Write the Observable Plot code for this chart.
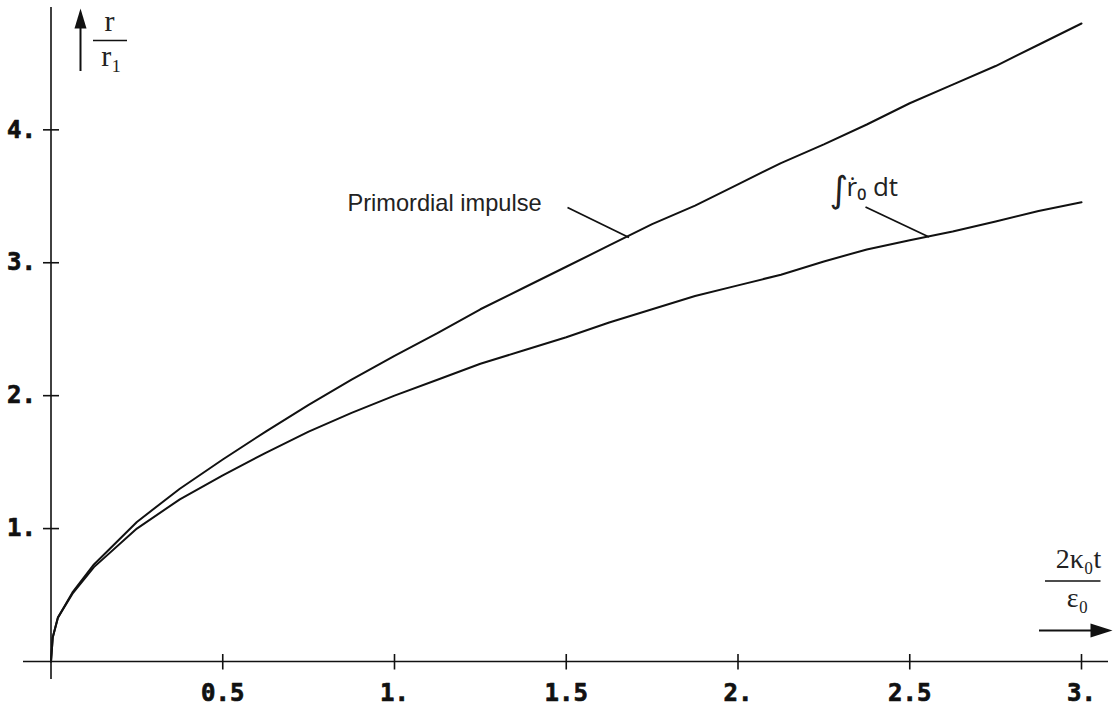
<!DOCTYPE html>
<html>
<head>
<meta charset="utf-8">
<script src="https://cdn.jsdelivr.net/npm/d3@7"></script>
<script src="https://cdn.jsdelivr.net/npm/@observablehq/plot@0.6"></script>
<style>
  html, body { margin: 0; padding: 0; background: #fff; }
  #chart svg { display: block; }
</style>
</head>
<body>
<div id="chart"></div>
<script>
// ---- data ----
const xs = [0, 0.005, 0.02, 0.0625, 0.125, 0.25, 0.375, 0.5, 0.625, 0.75, 0.875, 1.0,
  1.125, 1.25, 1.375, 1.5, 1.625, 1.75, 1.875, 2.0, 2.125, 2.25, 2.375, 2.5, 2.625,
  2.75, 2.875, 3.0];
const primordial = [0, 0.18, 0.33, 0.52, 0.73, 1.05, 1.30, 1.52, 1.73, 1.93, 2.12, 2.30,
  2.47, 2.65, 2.81, 2.97, 3.13, 3.29, 3.43, 3.59, 3.75, 3.89, 4.04, 4.20, 4.34,
  4.48, 4.64, 4.80];
const integral = [0, 0.18, 0.33, 0.51, 0.71, 1.00, 1.22, 1.40, 1.57, 1.73, 1.87, 2.00,
  2.12, 2.24, 2.34, 2.44, 2.55, 2.65, 2.75, 2.83, 2.91, 3.01, 3.10, 3.17, 3.235,
  3.31, 3.39, 3.455];
const seriesNames = ["Primordial impulse", "∫ṙ₀ dt"];
const xTickValues = [0.5, 1, 1.5, 2, 2.5, 3];
const xTickLabels = ["0.5", "1.", "1.5", "2.", "2.5", "3."];
const yTickValues = [1, 2, 3, 4];
const yTickLabels = ["1.", "2.", "3.", "4."];

// ---- layout ----
const W = 1114, H = 709, ML = 50.5, MR = 33, MT = 23, MB = 48;
const XMAX = 3, YMAX = 4.8;
// pixel -> data helpers for annotations
const X = p => (p - ML) / (W - ML - MR) * XMAX;
const Y = p => (H - MB - p) / (H - MT - MB) * YMAX;

const rows = [];
xs.forEach((x, i) => {
  rows.push({series: seriesNames[0], x, y: primordial[i]});
  rows.push({series: seriesNames[1], x, y: integral[i]});
});

const upHead = {draw(ctx) { ctx.moveTo(0, -10); ctx.lineTo(6, 10); ctx.lineTo(-6, 10); ctx.closePath(); }};
const rightHead = {draw(ctx) { ctx.moveTo(11, 0); ctx.lineTo(-11, -7); ctx.lineTo(-11, 7); ctx.closePath(); }};

const tickFont = {fontFamily: "DejaVu Sans Mono", fontWeight: "bold", fontSize: 24, fill: "#111", stroke: "#111", strokeWidth: 0.7};
const serif = {fontFamily: "Liberation Serif, Times New Roman, serif", fill: "#222"};
const ink = "#111";

const chart = Plot.plot({
  width: W, height: H,
  marginLeft: ML, marginRight: MR, marginTop: MT, marginBottom: MB,
  x: {domain: [0, XMAX], axis: null},
  y: {domain: [0, YMAX], axis: null},
  marks: [
    // axes
    Plot.ruleY([0], {x1: X(23), x2: X(1108), stroke: ink, strokeWidth: 1.6}),
    Plot.ruleX([0], {y1: Y(679), y2: Y(7), stroke: ink, strokeWidth: 1.6}),
    Plot.ruleX(xTickValues, {x: d => d, y1: Y(669.5), y2: Y(654), stroke: ink, strokeWidth: 1.6}),
    Plot.ruleY(yTickValues, {y: d => d, x1: X(43), x2: X(59), stroke: ink, strokeWidth: 1.6}),
    Plot.text(xTickValues, {x: d => d, y: 0, text: (d, i) => xTickLabels[i], dy: 32, ...tickFont}),
    Plot.text(yTickValues, {x: 0, y: d => d, text: (d, i) => yTickLabels[i], dx: -15, textAnchor: "end", ...tickFont}),
    // curves
    Plot.line(rows, {x: "x", y: "y", z: "series", stroke: ink, strokeWidth: 2}),
    // annotations
    Plot.link([0], {x1: X(567), y1: Y(207), x2: X(628.5), y2: Y(237), stroke: ink, strokeWidth: 1.8}),
    Plot.text([seriesNames[0]], {x: X(347), y: Y(210.5), text: d => d, textAnchor: "start", lineAnchor: "bottom",
      fontFamily: "Liberation Sans, Arial, sans-serif", fontSize: 23.6, fill: "#222"}),
    Plot.link([0], {x1: X(865), y1: Y(206.5), x2: X(928.5), y2: Y(236.5), stroke: ink, strokeWidth: 1.8}),
    Plot.text([seriesNames[1]], {x: X(829), y: Y(201), text: d => d.slice(0, 1), textAnchor: "start", lineAnchor: "bottom",
      fontFamily: "DejaVu Sans, sans-serif", fontSize: 36, fill: "#222"}),
    Plot.text([seriesNames[1]], {x: X(846), y: Y(195), text: d => d.slice(1), textAnchor: "start", lineAnchor: "bottom",
      fontFamily: "Open Sans, DejaVu Sans, sans-serif", fontSize: 26, fill: "#222"}),
    // y axis label
    Plot.ruleX([0], {x: X(80), y1: Y(71), y2: Y(26), stroke: ink, strokeWidth: 2}),
    Plot.dot([0], {x: X(80), y: Y(18), symbol: upHead, fill: ink, stroke: "none"}),
    Plot.text(["r"], {x: X(109), y: Y(30), text: d => d, lineAnchor: "bottom", fontSize: 30, ...serif}),
    Plot.ruleY([0], {y: Y(40), x1: X(93), x2: X(127), stroke: ink, strokeWidth: 1.6}),
    Plot.text(["r₁"], {x: X(111), y: Y(65), text: d => d, lineAnchor: "bottom", fontSize: 30, ...serif}),
    // x axis label
    Plot.text(["2κ₀t"], {x: X(1078), y: Y(567), text: d => d, lineAnchor: "bottom", fontSize: 28, ...serif}),
    Plot.ruleY([0], {y: Y(580.5), x1: X(1045), x2: X(1100.5), stroke: ink, strokeWidth: 1.6}),
    Plot.text(["ε₀"], {x: X(1077), y: Y(606), text: d => d, lineAnchor: "bottom", fontSize: 28, ...serif}),
    Plot.ruleY([0], {y: Y(630), x1: X(1039), x2: X(1093), stroke: ink, strokeWidth: 2}),
    Plot.dot([0], {x: X(1101), y: Y(630), symbol: rightHead, fill: ink, stroke: "none"})
  ]
});
document.getElementById("chart").appendChild(chart);
</script>
</body>
</html>
